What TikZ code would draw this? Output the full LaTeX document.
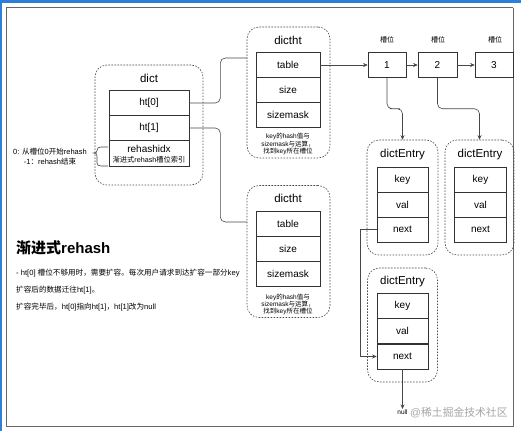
\documentclass[tikz,border=0pt]{standalone}
\usepackage{fontspec}
\setmainfont{Liberation Sans}
\newfontfamily\cjk{Noto Sans CJK SC}
\newcommand\zh[1]{{\cjk #1}}
\usetikzlibrary{arrows.meta,calc}
\definecolor{frameblue}{HTML}{2F7FD8}
\begin{document}
\begin{tikzpicture}[x=1pt,y=-1pt,
  cont/.style={draw=black!72, dash pattern=on 1.6pt off 1.4pt, rounded corners=12pt, line width=0.6pt},
  cell/.style={draw=black!80, fill=white, line width=0.6pt, minimum height=25pt, inner sep=0pt, font=\fontsize{10}{12}\selectfont},
  ttl/.style={font=\fontsize{11.5}{13}\selectfont, inner sep=0pt},
  small/.style={font=\fontsize{6.5}{7.3}\selectfont, align=center, inner sep=0pt},
  lbl/.style={font=\fontsize{7}{8}\selectfont, inner sep=0pt},
  para/.style={anchor=west, inner sep=0pt, font=\fontsize{7.6}{9}\selectfont},
  conn/.style={draw=black!72, line width=0.6pt},
  arr/.style={conn, -{Stealth[length=4.5pt,width=4pt]}},
]
\useasboundingbox (0,0) rectangle (521,431);
% screen frame
\fill[white] (0,0) rectangle (521,431);
\fill[frameblue] (0,0) rectangle (521,2.7);
\fill[frameblue] (0,0) rectangle (2,431);
\draw[black!60, line width=1pt] (6.2,7.8) -- (513,7.8);
\draw[black!60, line width=1pt] (6.2,7.8) -- (6.2,426) -- (513,426) -- (513,7.8);

% dict
\node[cont, minimum width=108pt, minimum height=120pt] (dict) at (149,125) {};
\node[ttl] (dictT) at (149,78) {dict};
\node[cell, minimum width=80pt] (ht0) at (149,103) {ht[0]};
\node[cell, minimum width=80pt] (ht1) at (149,128) {ht[1]};
\node[cell, minimum width=80pt, minimum height=26pt] (rh) at (149,153.5) {};
\node[inner sep=0pt, font=\fontsize{10}{12}\selectfont] (rhT) at (149,148.5) {rehashidx};
\node[inner sep=0pt, font=\fontsize{7.2}{8}\selectfont] (rhS) at (149,159.6) {\zh{渐进式}rehash\zh{槽位索引}};

% note and brace
\node[font=\fontsize{7.5}{10}\selectfont, align=center, inner sep=0pt] (note) at (50,157)
  {0: \zh{从槽位}0\zh{开始}rehash\\-1\zh{：}rehash\zh{结束}};
\draw[conn] (108,147) -- (101,147) .. controls (98.5,147) and (97,148) .. (97,150.5)
  .. controls (97,152.5) and (96,153) .. (93.5,153) .. controls (96,153) and (97,153.5) .. (97,156)
  -- (97,163) .. controls (97,165) and (98.5,166) .. (101,166) -- (108,166);

% dictht top
\node[cont, minimum width=83pt, minimum height=131pt] (dt1) at (288.5,92.5) {};
\node[ttl] (dt1T) at (288,40) {dictht};
\node[cell, minimum width=64pt] (tab1) at (288,65) {table};
\node[cell, minimum width=64pt] (size1) at (288,90) {size};
\node[cell, minimum width=64pt] (mask1) at (288,115) {sizemask};
\node[small] (desc1) at (288,144) {key\zh{的}hash\zh{值与}\\sizemask\zh{与运算，}\\\zh{找到}key\zh{所在槽位}};

% dictht bottom
\node[cont, minimum width=83pt, minimum height=132pt] (dt2) at (288.5,251.5) {};
\node[ttl] (dt2T) at (288,198) {dictht};
\node[cell, minimum width=64pt] (tab2) at (288,223.5) {table};
\node[cell, minimum width=64pt] (size2) at (288,248.5) {size};
\node[cell, minimum width=64pt] (mask2) at (288,273.5) {sizemask};
\node[small] (desc2) at (288,304.5) {key\zh{的}hash\zh{值与}\\sizemask\zh{与运算，}\\\zh{找到}key\zh{所在槽位}};

% slots
\node[cell, minimum width=38pt] (s1) at (387,65) {1};
\node[cell, minimum width=39pt] (s2) at (437.5,65) {2};
\node[cell, minimum width=38pt] (s3) at (494,65) {3};
\node[lbl] (s1L) at (387,39.5) {\zh{槽位}};
\node[lbl] (s2L) at (438,39.5) {\zh{槽位}};
\node[lbl] (s3L) at (495,39.5) {\zh{槽位}};

% dictEntry 1
\node[cont, minimum width=71pt, minimum height=115pt] (e1) at (402.5,197.5) {};
\node[ttl] (e1T) at (402.5,155) {dictEntry};
\node[cell, minimum width=51pt] (e1key) at (402.5,179.5) {key};
\node[cell, minimum width=51pt] (e1val) at (402.5,204.5) {val};
\node[cell, minimum width=51pt] (e1next) at (402.5,229.5) {next};

% dictEntry 2
\node[cont, minimum width=69pt, minimum height=115pt] (e2) at (479.5,197.5) {};
\node[ttl] (e2T) at (480,155) {dictEntry};
\node[cell, minimum width=52pt] (e2key) at (480.5,179.5) {key};
\node[cell, minimum width=52pt] (e2val) at (480.5,204.5) {val};
\node[cell, minimum width=52pt] (e2next) at (480.5,229.5) {next};

% dictEntry 3
\node[cont, minimum width=70pt, minimum height=114pt] (e3) at (402.5,325) {};
\node[ttl] (e3T) at (402.5,282) {dictEntry};
\node[cell, minimum width=51pt] (e3key) at (402.5,305.5) {key};
\node[cell, minimum width=51pt] (e3val) at (402.5,331) {val};
\node[cell, minimum width=51pt] (e3next) at (402.5,356.5) {next};

\node[inner sep=1pt, font=\fontsize{6.5}{7}\selectfont] (null) at (402.5,412.5) {null};
\node[inner sep=0pt, text=black!35, font=\fontsize{10.8}{12}\selectfont, anchor=west] (wm) at (410,413) {@\zh{稀土掘金技术社区}};

% left text
\node[anchor=west, inner sep=0pt, font=\fontsize{15}{17}\selectfont\bfseries] (head) at (16,248) {\zh{渐进式}rehash};
\node[para] (p1) at (16,273) {- ht[0] \zh{槽位不够用时，需要扩容。每次用户请求到达扩容一部分}key};
\node[para] (p2) at (16,290) {\zh{扩容后的数据迁往}ht[1]\zh{。}};
\node[para] (p3) at (16,307) {\zh{扩容完毕后，}ht[0]\zh{指向}ht[1]\zh{，}ht[1]\zh{改为}null};

% connectors
\coordinate (d1in) at (247,58);
\coordinate (d2in) at (247,222);
\draw[conn, rounded corners=5pt] (ht0.east) -- ++(31,0) |- (d1in);
\draw[conn, rounded corners=5pt] (ht1.east) -- ++(31,0) |- (d2in);
\draw[arr] (tab1.east) -- (s1.west);
\draw[arr] (s1.east) -- (s2.west);
\draw[arr] (s2.east) -- (s3.west);
\draw[arr, rounded corners=5pt] (s1.south) |- ($(s1.south)!.5!(e1.north)$) -| (e1.north);
\draw[arr, rounded corners=5pt] (s2.south) |- ($(s2.south)!.5!(e2.north)$) -| (e2.north);
\draw[arr] (e1next.west) -- ++(-16,0) |- (e3next.west);
\draw[arr] (e3next.south) -- (null.north);
\end{tikzpicture}
\end{document}
